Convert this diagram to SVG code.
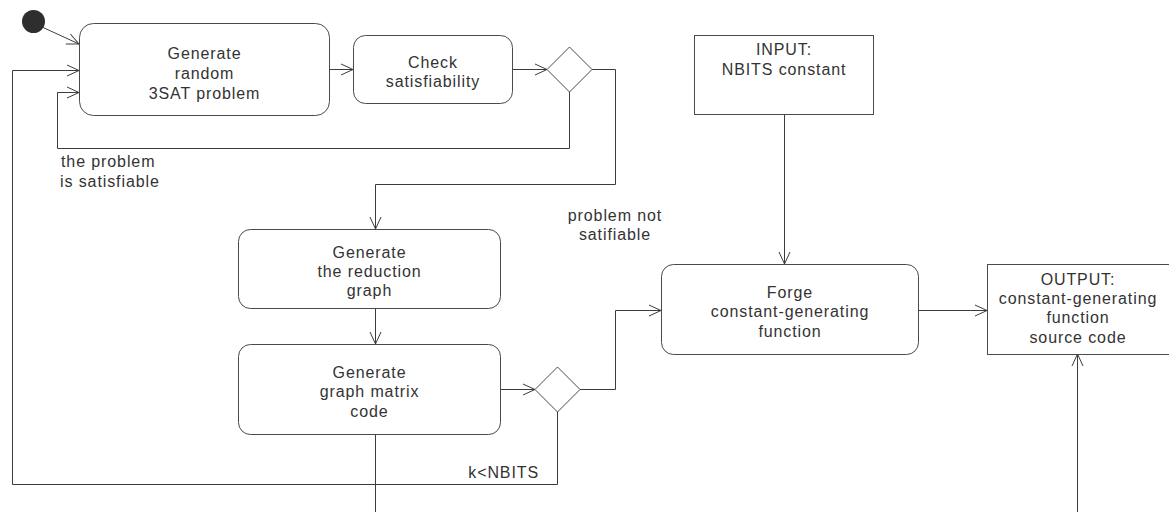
<svg xmlns="http://www.w3.org/2000/svg" width="1169" height="512" viewBox="0 0 1169 512">
  <defs>
    <style>
      .act { fill: #ffffff; stroke: #4a4a4a; stroke-width: 1; }
      .obj { fill: #ffffff; stroke: #4a4a4a; stroke-width: 1; }
      .dec { fill: #ffffff; stroke: #4a4a4a; stroke-width: 1; }
      .flow { fill: none; stroke: #3c3c3c; stroke-width: 1; }
      .t { font-family: "Liberation Sans", Arial, sans-serif; font-size: 16px; fill: #333333; letter-spacing: 0.9px; }
      .c { text-anchor: middle; }
    </style>
    <marker id="open" markerUnits="userSpaceOnUse" markerWidth="14" markerHeight="13" refX="12" refY="5.5" orient="auto" overflow="visible">
      <path d="M0,0 L12,5.5 L0,11" fill="none" stroke="#3c3c3c" stroke-width="1"/>
    </marker>
  </defs>

  <g id="connectors">
    <line class="flow" x1="42" y1="27" x2="79" y2="44" marker-end="url(#open)"/>
    <path class="flow" d="M329,69.5 H353" marker-end="url(#open)"/>
    <path class="flow" d="M512,69.5 H547" marker-end="url(#open)"/>
    <path class="flow" d="M569.5,92 V148.5 H57.5 V92.5 H79" marker-end="url(#open)"/>
    <path class="flow" d="M592,69.5 H615.5 V184.5 H375.5 V229" marker-end="url(#open)"/>
    <path class="flow" d="M375.5,308 V344" marker-end="url(#open)"/>
    <path class="flow" d="M500,389.5 H535" marker-end="url(#open)"/>
    <path class="flow" d="M580,389.5 H615.5 V310.5 H661" marker-end="url(#open)"/>
    <path class="flow" d="M557.5,412 V484.5 H12.5 V70.5 H79" marker-end="url(#open)"/>
    <path class="flow" d="M375.5,434 V512"/>
    <path class="flow" d="M784.5,114 V264" marker-end="url(#open)"/>
    <path class="flow" d="M918,310.5 H987" marker-end="url(#open)"/>
    <path class="flow" d="M1077.5,512 V354" marker-end="url(#open)"/>
  </g>

  <g id="start">
    <circle cx="33.5" cy="21.5" r="11.5" fill="#2e2e2e"/>
  </g>

  <g id="generate-random">
    <rect class="act" x="79.5" y="23.5" width="250" height="92" rx="14"/>
    <text class="t c" x="204.5" y="59">Generate</text>
    <text class="t c" x="204.5" y="79">random</text>
    <text class="t c" x="204.5" y="99">3SAT problem</text>
  </g>

  <g id="check-satisfiability">
    <rect class="act" x="353.5" y="35.5" width="159" height="68" rx="12"/>
    <text class="t c" x="433" y="68">Check</text>
    <text class="t c" x="433" y="87">satisfiability</text>
  </g>

  <g id="decision-sat">
    <polygon class="dec" points="569.5,47 592,69.5 569.5,92 547,69.5"/>
  </g>

  <g id="generate-reduction">
    <rect class="act" x="238.5" y="229.5" width="262" height="79" rx="12"/>
    <text class="t c" x="369.5" y="258">Generate</text>
    <text class="t c" x="369.5" y="277">the reduction</text>
    <text class="t c" x="369.5" y="296">graph</text>
  </g>

  <g id="generate-matrix">
    <rect class="act" x="238.5" y="344.5" width="262" height="90" rx="12"/>
    <text class="t c" x="369.5" y="378">Generate</text>
    <text class="t c" x="369.5" y="397">graph matrix</text>
    <text class="t c" x="369.5" y="417">code</text>
  </g>

  <g id="decision-bits">
    <polygon class="dec" points="557.5,367 580,389.5 557.5,412 535,389.5"/>
  </g>

  <g id="input">
    <rect class="obj" x="694.5" y="35.5" width="179" height="79"/>
    <text class="t c" x="784" y="55">INPUT:</text>
    <text class="t c" x="784" y="75">NBITS constant</text>
  </g>

  <g id="forge">
    <rect class="act" x="661.5" y="264.5" width="257" height="90" rx="12"/>
    <text class="t c" x="790" y="298">Forge</text>
    <text class="t c" x="790" y="317">constant-generating</text>
    <text class="t c" x="790" y="337">function</text>
  </g>

  <g id="output">
    <rect class="obj" x="987.5" y="264.5" width="182" height="90"/>
    <text class="t c" x="1078" y="285">OUTPUT:</text>
    <text class="t c" x="1078" y="304">constant-generating</text>
    <text class="t c" x="1078" y="323">function</text>
    <text class="t c" x="1078" y="343">source code</text>
  </g>

  <g id="labels">
    <text class="t" x="61" y="167">the problem</text>
    <text class="t" x="60" y="187">is satisfiable</text>
    <text class="t c" x="615" y="221">problem not</text>
    <text class="t c" x="615" y="240">satifiable</text>
    <text class="t" x="539" y="478" text-anchor="end">k&lt;NBITS</text>
  </g>
</svg>
